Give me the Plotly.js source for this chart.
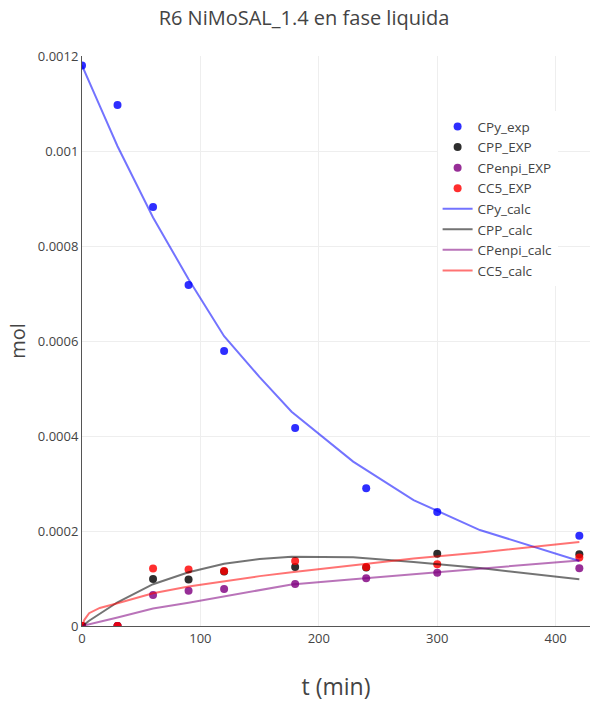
<!DOCTYPE html>
<html>
<head>
<meta charset="utf-8">
<script src="https://cdn.plot.ly/plotly-3.0.1.min.js"></script>
<style>html,body{margin:0;padding:0;background:#fff}#chart{width:608px;height:702px}</style>
</head>
<body>
<div id="chart"></div>
<script>
// Experimental data
const tExp = [0, 30, 60, 90, 120, 180, 240, 300, 420];
const CPy_exp = [0.00118, 0.001097, 0.000882, 0.000718, 0.000579, 0.000417, 0.000290, 0.000240, 0.000190];
const CPP_EXP = [0, 0, 0.000099, 0.000098, 0.000115, 0.000124, 0.000123, 0.000152, 0.000151];
const CPenpi_EXP = [0, 0, 0.0000653, 0.0000743, 0.0000779, 0.0000884, 0.0001004, 0.0001122, 0.0001214];
const CC5_EXP = [0, 0, 0.000121, 0.000119, 0.000116, 0.000137, 0.000124, 0.000130, 0.000144];

// Calculated (model) curves
const tCalc = [0, 2, 6, 15, 30, 60, 90, 120, 150, 177, 229, 280, 336, 420];
const CPy_calc = [0.00118, 0.001169, 0.001146, 0.001095, 0.00101, 0.00086, 0.00073, 0.00061, 0.000524, 0.000451, 0.000346, 0.000265, 0.000202, 0.000137];
const CPP_calc = [0, 0.000003, 0.000011, 0.000026, 0.000050, 0.000088, 0.000113, 0.000131, 0.000141, 0.000146, 0.000145, 0.000135, 0.000122, 0.0000985];
const CPenpi_calc = [0, 0.000001, 0.000004, 0.000009, 0.000018, 0.000037, 0.000049, 0.000062, 0.0000745, 0.0000875, 0.0000985, 0.000109, 0.000120, 0.000138];
const CC5_calc = [0, 0.000013, 0.000027, 0.000038, 0.000048, 0.000069, 0.000083, 0.000094, 0.000105, 0.000113, 0.000128, 0.000142, 0.000155, 0.000177];

const names = ['CPy_exp', 'CPP_EXP', 'CPenpi_EXP', 'CC5_EXP', 'CPy_calc', 'CPP_calc', 'CPenpi_calc', 'CC5_calc'];
const colors = ['rgb(0,0,255)', 'rgb(0,0,0)', 'rgb(128,0,128)', 'rgb(255,0,0)'];

const expSeries = [CPy_exp, CPP_EXP, CPenpi_EXP, CC5_EXP];
const calcSeries = [CPy_calc, CPP_calc, CPenpi_calc, CC5_calc];

const traces = [];
expSeries.forEach((ys, i) => {
  traces.push({
    x: tExp, y: ys, name: names[i], type: 'scatter', mode: 'markers',
    marker: {color: colors[i], size: 8, opacity: 0.82}
  });
});
calcSeries.forEach((ys, i) => {
  traces.push({
    x: tCalc, y: ys, name: names[i + 4], type: 'scatter', mode: 'lines',
    line: {color: colors[i], width: 2}, opacity: 0.55
  });
});

const layout = {
  width: 608, height: 702,
  margin: {l: 82, r: 18, t: 56, b: 76},
  paper_bgcolor: '#fff', plot_bgcolor: '#fff',
  font: {family: '"Open Sans", sans-serif', color: '#444', size: 13},
  title: {text: 'R6 NiMoSAL_1.4 en fase liquida', font: {size: 20, color: '#444'}, x: 0.5, xanchor: 'center', y: 0.974, yanchor: 'middle'},
  xaxis: {
    title: {text: 't (min)', font: {size: 23}, standoff: 33},
    range: [0, 429], showgrid: true, gridcolor: '#eee', zeroline: false,
    showline: true, linecolor: '#555', linewidth: 1, ticks: '', automargin: false,
    tickfont: {size: 13}
  },
  yaxis: {
    title: {text: 'mol', font: {size: 20}, standoff: 6},
    range: [0, 0.0012], dtick: 0.0002, showgrid: true, gridcolor: '#eee', zeroline: false,
    showline: true, linecolor: '#555', linewidth: 1, ticks: '', automargin: false,
    tickfont: {size: 13}
  },
  legend: {x: 0.70, y: 0.903, xanchor: 'left', yanchor: 'top', bgcolor: '#fff', font: {size: 13.5}},
  showlegend: true
};

Plotly.newPlot('chart', traces, layout, {displayModeBar: false, staticPlot: true});
</script>
</body>
</html>
